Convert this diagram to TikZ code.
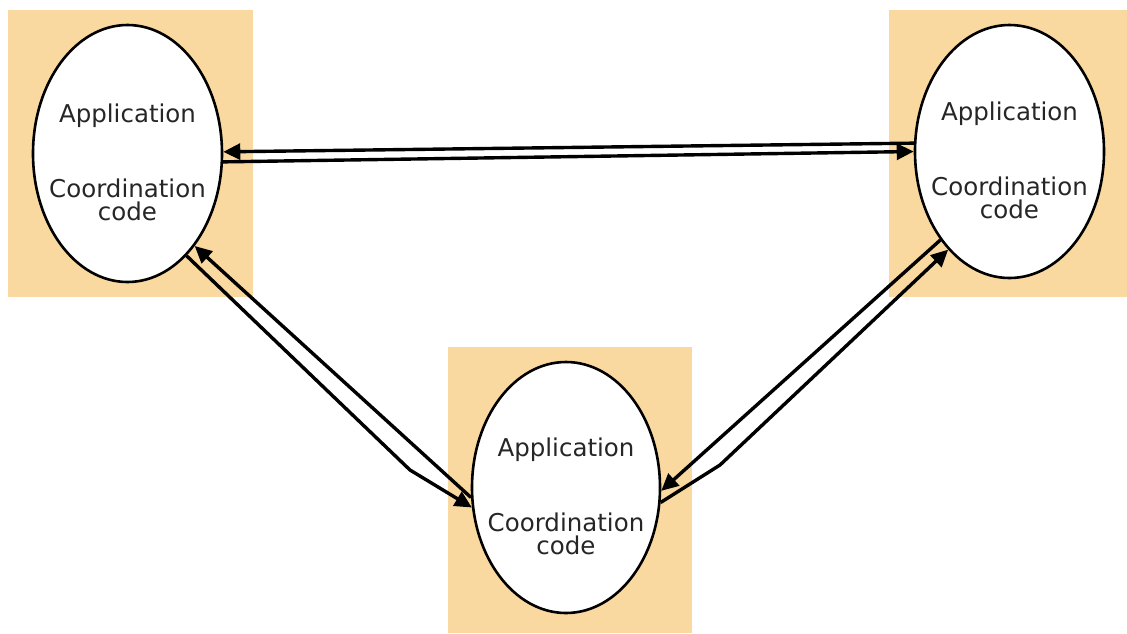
\documentclass[tikz,border=0pt]{standalone}
\usepackage{fontspec}
\newfontfamily\lblfont{DejaVu Sans}
\usetikzlibrary{shapes.geometric,arrows.meta}
\definecolor{tanbg}{RGB}{250,217,160}
\begin{document}
\begin{tikzpicture}[x=1pt,y=-1pt,
  panel/.style={fill=tanbg},
  proc/.style={ellipse,draw=black,line width=2.6pt,fill=white,inner sep=0pt},
  lbl/.style={font=\lblfont\fontsize{24.5}{29}\selectfont,anchor=base,inner sep=0pt,text=black!85},
  link/.style={draw=black,line width=3.4pt,line join=round,-{Triangle[length=17pt,width=16pt]}}]
\useasboundingbox[fill=white] (0,0) rectangle (1127,633);
% panels
\fill[panel] (8,10) rectangle (253,297);
\fill[panel] (889,10) rectangle (1127,297);
\fill[panel] (448,347) rectangle (692,633);
% ellipses
\node[proc,minimum width=189pt,minimum height=257pt] (e1) at (127.5,153.5) {};
\node[proc,minimum width=189pt,minimum height=253pt] (e2) at (1009.5,151.5) {};
\node[proc,minimum width=188pt,minimum height=251pt] (e3) at (566,487.5) {};
% labels
\node[lbl] (e1a) at ([yshift=31pt]e1.center) {Application};
\node[lbl] (e1b) at ([yshift=-44pt]e1.center) {Coordination};
\node[lbl] (e1c) at ([yshift=-67pt]e1.center) {code};
\node[lbl] (e2a) at ([yshift=31pt]e2.center) {Application};
\node[lbl] (e2b) at ([yshift=-44pt]e2.center) {Coordination};
\node[lbl] (e2c) at ([yshift=-67pt]e2.center) {code};
\node[lbl] (e3a) at ([yshift=31pt]e3.center) {Application};
\node[lbl] (e3b) at ([yshift=-44pt]e3.center) {Coordination};
\node[lbl] (e3c) at ([yshift=-67pt]e3.center) {code};
% connectors
\draw[link] (e2.175) -- (e1.1);
\draw[link] (e1.-5) -- (e2.180);
\coordinate (lb) at (410,470);
\draw[link] (e3.186) -- (e1.-54);
\draw[link] (e1.-60) -- (lb) -- (e3.192);
\coordinate (rb) at (720,465);
\draw[link] (e2.232) -- (e3.-2);
\draw[link] (e3.-9) -- (rb) -- (e2.238);
\end{tikzpicture}
\end{document}
